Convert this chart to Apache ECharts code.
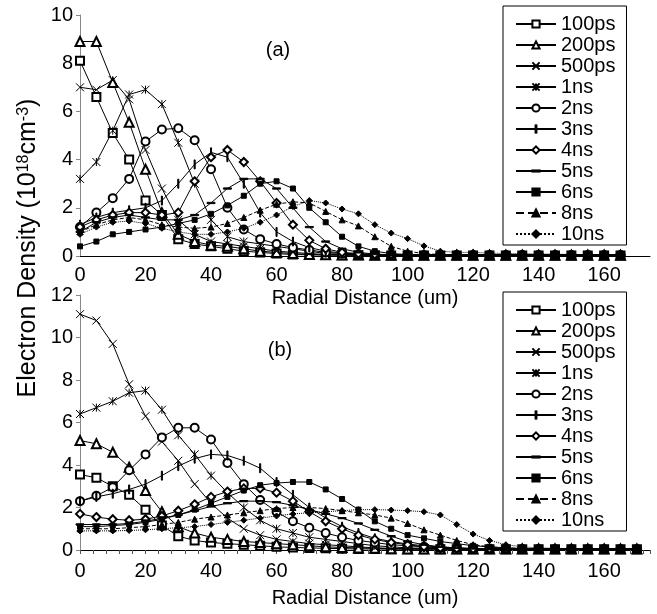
<!DOCTYPE html>
<html>
<head>
<meta charset="utf-8">
<script src="https://cdn.jsdelivr.net/npm/echarts@6/dist/echarts.min.js"></script>
<style>
html,body{margin:0;padding:0;background:#fff;}
#chart{width:657px;height:614px;}
</style>
</head>
<body>
<div id="chart"></div>
<script>
// ---------- DATA ----------
const seriesNames = ['100ps','200ps','500ps','1ns','2ns','3ns','4ns','5ns','6ns','8ns','10ns'];
const xTicks = [0,20,40,60,80,100,120,140,160];
const yTicksA = [0,2,4,6,8,10];
const yTicksB = [0,2,4,6,8,10,12];

// Panel (a): radial distance (um)
const xA = [0,5,10,15,20,25,30,35,40,45,50,55,60,65,70,75,80,85,90,95,100,105,110,115,120,125,130,135,140,145,150,155,160,165];
const a100ps = [8.1,6.6,5.1,4.0,2.3,1.7,0.7,0.5,0.4,0.3,0.2,0.15,0.1,0.06,0.05,0.04,0.03,0.03,0.03,0.02,0.02,0.02,0.02,0.02,0.02,0.02,0.02,0.02,0.02,0.02,0.02,0.02,0.02,0.02];
const a200ps = [8.9,8.9,7.2,5.55,3.6,1.8,0.9,0.6,0.45,0.4,0.3,0.2,0.15,0.1,0.06,0.05,0.04,0.04,0.03,0.03,0.03,0.03,0.03,0.03,0.03,0.03,0.03,0.03,0.03,0.03,0.03,0.03,0.03,0.03];
const a500ps = [7.0,6.9,7.3,6.5,4.4,2.8,1.5,0.9,0.6,0.5,0.4,0.3,0.2,0.15,0.1,0.06,0.05,0.05,0.04,0.04,0.04,0.04,0.04,0.04,0.04,0.04,0.04,0.04,0.04,0.04,0.04,0.04,0.04,0.04];
const a1ns   = [3.2,3.9,5.2,6.7,6.9,6.3,4.7,3.0,1.5,0.8,0.6,0.5,0.4,0.3,0.2,0.1,0.06,0.05,0.05,0.04,0.04,0.04,0.04,0.04,0.04,0.04,0.04,0.04,0.04,0.04,0.04,0.04,0.04,0.04];
const a2ns   = [1.2,1.8,2.4,3.2,4.75,5.25,5.3,4.8,3.6,2.0,1.1,0.7,0.5,0.35,0.25,0.15,0.1,0.06,0.05,0.05,0.04,0.04,0.04,0.04,0.04,0.04,0.04,0.04,0.04,0.04,0.04,0.04,0.04,0.04];
const a3ns   = [1.3,1.6,1.8,1.9,2.0,2.3,3.0,3.8,4.3,4.1,3.0,1.8,1.0,0.6,0.35,0.2,0.12,0.08,0.06,0.05,0.05,0.05,0.05,0.05,0.05,0.05,0.05,0.05,0.05,0.05,0.05,0.05,0.05,0.05];
const a4ns   = [1.2,1.5,1.7,1.8,1.8,1.7,1.8,3.1,4.1,4.4,3.9,3.1,2.2,1.3,0.65,0.3,0.15,0.1,0.06,0.05,0.05,0.05,0.05,0.05,0.05,0.05,0.05,0.05,0.05,0.05,0.05,0.05,0.05,0.05];
const a5ns   = [1.0,1.4,1.6,1.7,1.6,1.5,1.5,1.7,2.2,2.8,3.2,3.2,2.8,2.0,1.2,0.6,0.3,0.15,0.08,0.05,0.05,0.05,0.05,0.05,0.05,0.05,0.05,0.05,0.05,0.05,0.05,0.05,0.05,0.05];
const a6ns   = [0.4,0.6,0.9,1.0,1.1,1.2,1.35,1.5,1.75,2.1,2.5,3.0,3.1,2.8,2.0,1.4,0.8,0.4,0.2,0.1,0.06,0.05,0.05,0.05,0.05,0.05,0.05,0.05,0.05,0.05,0.05,0.05,0.05,0.05];
const a8ns   = [1.0,1.3,1.5,1.6,1.5,1.3,1.2,1.15,1.2,1.35,1.6,1.9,2.15,2.25,2.2,1.85,1.5,1.25,0.8,0.4,0.2,0.1,0.06,0.05,0.05,0.05,0.05,0.05,0.05,0.05,0.05,0.05,0.05,0.05];
const a10ns  = [0.9,1.2,1.4,1.45,1.35,1.15,1.0,0.9,0.9,1.0,1.15,1.4,1.7,2.05,2.3,2.2,1.95,1.75,1.3,0.95,0.72,0.42,0.2,0.15,0.15,0.12,0.1,0.1,0.08,0.08,0.06,0.05,0.05,0.05];

// Panel (b)
const xB = [0,5,10,15,20,25,30,35,40,45,50,55,60,65,70,75,80,85,90,95,100,105,110,115,120,125,130,135,140,145,150,155,160,165,170];
const b100ps = [3.55,3.4,3.0,2.6,1.9,1.15,0.65,0.45,0.35,0.3,0.25,0.2,0.15,0.12,0.1,0.08,0.06,0.05,0.05,0.04,0.04,0.04,0.04,0.04,0.04,0.04,0.04,0.04,0.04,0.04,0.04,0.04,0.04,0.04,0.04];
const b200ps = [5.15,5.0,4.6,3.9,2.8,1.8,1.1,0.8,0.6,0.5,0.4,0.35,0.3,0.25,0.2,0.15,0.12,0.1,0.08,0.06,0.05,0.05,0.05,0.05,0.05,0.05,0.05,0.05,0.05,0.05,0.05,0.05,0.05,0.05,0.05];
const b500ps = [11.1,10.8,9.7,7.8,6.3,5.1,4.2,3.1,2.2,1.5,1.0,0.7,0.5,0.4,0.3,0.25,0.2,0.15,0.1,0.08,0.06,0.05,0.05,0.05,0.05,0.05,0.05,0.05,0.05,0.05,0.05,0.05,0.05,0.05,0.05];
const b1ns   = [6.4,6.7,7.0,7.4,7.5,6.6,5.4,4.5,3.5,2.7,2.0,1.4,1.0,0.8,0.6,0.5,0.4,0.3,0.2,0.15,0.1,0.08,0.06,0.05,0.05,0.05,0.05,0.05,0.05,0.05,0.05,0.05,0.05,0.05,0.05];
const b2ns   = [2.3,2.55,2.95,3.75,4.5,5.3,5.75,5.75,5.2,4.1,3.1,2.35,1.8,1.35,1.05,0.8,0.6,0.45,0.35,0.25,0.2,0.15,0.1,0.08,0.06,0.05,0.05,0.05,0.05,0.05,0.05,0.05,0.05,0.05,0.05];
const b3ns   = [2.3,2.5,2.65,2.85,3.1,3.5,3.95,4.3,4.5,4.45,4.2,3.85,3.2,2.6,2.0,1.5,1.1,0.8,0.55,0.4,0.28,0.2,0.14,0.1,0.07,0.05,0.05,0.05,0.05,0.05,0.05,0.05,0.05,0.05,0.05];
const b4ns   = [1.7,1.55,1.45,1.4,1.45,1.6,1.85,2.15,2.5,2.75,2.9,2.9,2.7,2.3,1.8,1.35,1.0,0.7,0.5,0.35,0.25,0.15,0.1,0.07,0.05,0.05,0.05,0.05,0.05,0.05,0.05,0.05,0.05,0.05,0.05];
const b5ns   = [1.2,1.2,1.2,1.25,1.35,1.5,1.65,1.85,2.05,2.2,2.3,2.3,2.25,2.1,1.9,1.7,1.5,1.25,0.95,0.65,0.4,0.25,0.15,0.1,0.07,0.05,0.05,0.05,0.05,0.05,0.05,0.05,0.05,0.05,0.05];
const b6ns   = [1.1,1.1,1.15,1.2,1.3,1.45,1.65,1.9,2.2,2.5,2.8,3.05,3.15,3.2,3.2,2.85,2.4,1.9,1.35,1.0,0.7,0.55,0.4,0.3,0.2,0.15,0.1,0.07,0.05,0.05,0.05,0.05,0.05,0.05,0.05];
const b8ns   = [1.0,1.0,1.0,1.05,1.1,1.2,1.3,1.45,1.55,1.65,1.75,1.85,1.95,2.0,2.0,1.95,1.85,1.75,1.65,1.5,1.25,0.95,0.7,0.45,0.25,0.15,0.1,0.07,0.05,0.05,0.05,0.05,0.05,0.05,0.05];
const b10ns  = [0.9,0.9,0.9,0.92,0.95,1.0,1.05,1.1,1.2,1.3,1.4,1.5,1.6,1.7,1.75,1.8,1.85,1.9,1.9,1.88,1.85,1.8,1.65,1.2,0.75,0.45,0.25,0.15,0.1,0.08,0.06,0.05,0.05,0.05,0.05];

const panelA = [a100ps,a200ps,a500ps,a1ns,a2ns,a3ns,a4ns,a5ns,a6ns,a8ns,a10ns];
const panelB = [b100ps,b200ps,b500ps,b1ns,b2ns,b3ns,b4ns,b5ns,b6ns,b8ns,b10ns];

// ---------- STYLES ----------
const FONT = '"Liberation Sans", Arial, Helvetica, sans-serif';
const styles = [
  {symbol:'emptyRect', size:8, line:'solid'},
  {symbol:'emptyTriangle', size:9, line:'solid'},
  {symbol:'path://M0,0L10,10M10,0L0,10', size:8, line:'solid'},
  {symbol:'path://M0,0L10,10M10,0L0,10M5,0L5,10', size:8, line:'solid'},
  {symbol:'emptyCircle', size:8, line:'solid'},
  {symbol:'path://M0,0L0,0M10,10L10,10M4.4,0L5.6,0L5.6,10L4.4,10Z', size:9, line:'solid'},
  {symbol:'emptyDiamond', size:8, line:'solid'},
  {symbol:'path://M0,0L0,0M10,10L10,10M0,4.2L10,4.2L10,5.8L0,5.8Z', size:8, line:'solid'},
  {symbol:'rect', size:5, line:'solid'},
  {symbol:'triangle', size:6, line:'dashed'},
  {symbol:'diamond', size:6, line:'dotted'}
];

function buildSeries(panelIdx, xs, arrs){
  return arrs.map((arr, i) => ({
    type:'line',
    name: seriesNames[i],
    xAxisIndex: panelIdx,
    yAxisIndex: panelIdx,
    data: xs.map((x, k) => [x, arr[k]]),
    symbol: styles[i].symbol,
    symbolSize: styles[i].size,
    showAllSymbol: true,
    lineStyle: {color:'#000', width:1, type: styles[i].line},
    itemStyle: {color:'#000', borderColor:'#000', borderWidth:1},
    emphasis: {disabled:true},
    silent: true,
    animation: false
  }));
}

function xAxis(gridIndex, hasTicks, nameGap, labelMargin){
  return {
    type:'value', gridIndex, min:0, max:174, interval:20,
    name:'Radial Distance (um)', nameLocation:'middle', nameGap,
    nameTextStyle:{fontSize:20, fontFamily:FONT, color:'#000'},
    axisLine:{show:true, onZero:false, lineStyle:{color:'#000', width:1}},
    axisTick:{show:hasTicks, length:4, lineStyle:{color:'#555'}},
    minorTick:{show:hasTicks, splitNumber:5, length:4, lineStyle:{color:'#555'}},
    splitLine:{show:false},
    axisLabel:{fontSize:20, fontFamily:FONT, color:'#000', margin:labelMargin, showMaxLabel:false,
      formatter: v => xTicks.includes(v) ? String(v) : ''}
  };
}
function yAxis(gridIndex, max){
  return {
    type:'value', gridIndex, min:0, max, interval:2,
    axisLine:{show:true, lineStyle:{color:'#888', width:1}},
    axisTick:{show:true, length:4, lineStyle:{color:'#888'}},
    splitLine:{show:false},
    axisLabel:{fontSize:20, fontFamily:FONT, color:'#000', margin:7}
  };
}
function legend(top){
  return {
    show:true, orient:'vertical', left:503, top,
    data: seriesNames,
    selectedMode:false,
    itemWidth:40, itemHeight:9, itemGap:1,
    padding:[8,11,1,12],
    borderColor:'#000', borderWidth:1, backgroundColor:'#fff',
    textStyle:{fontSize:20, fontFamily:FONT, color:'#000', padding:[0,0,0,0]}
  };
}

const chart = echarts.init(document.getElementById('chart'), null, {renderer:'canvas'});
chart.setOption({
  animation:false,
  backgroundColor:'#fff',
  grid:[
    {left:80, right:7, top:15, height:241},
    {left:80, right:7, top:295, height:255}
  ],
  xAxis:[xAxis(0,false,32,9), xAxis(1,true,38,11)],
  yAxis:[yAxis(0,10), yAxis(1,12)],
  legend:[legend(6), legend(292)],
  series: buildSeries(0, xA, panelA).concat(buildSeries(1, xB, panelB)),
  graphic:[
    {type:'text', x:28, y:248, rotation:Math.PI/2,
     style:{text:'Electron Density (10{sup|18}cm{sup|-3})', fontSize:25, fontFamily:FONT, fill:'#000',
       align:'center', verticalAlign:'middle',
       rich:{sup:{fontSize:16, fontFamily:FONT, verticalAlign:'top', fill:'#000'}}}},
    {type:'text', x:278, y:50, style:{text:'(a)', fontSize:20, fontFamily:FONT, fill:'#000', align:'center', verticalAlign:'middle'}},
    {type:'text', x:280, y:350, style:{text:'(b)', fontSize:20, fontFamily:FONT, fill:'#000', align:'center', verticalAlign:'middle'}}
  ]
});
</script>
</body>
</html>
